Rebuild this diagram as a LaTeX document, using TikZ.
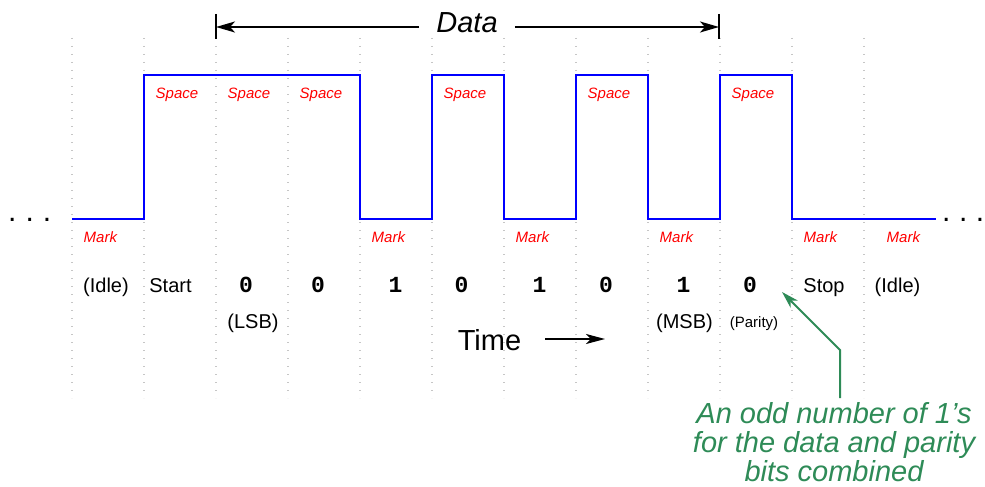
\documentclass[tikz,border=0pt]{standalone}
\usepackage{fontspec}
\setmainfont{Liberation Sans}
\newfontfamily\bitfont{Liberation Mono}
\usetikzlibrary{arrows.meta}

\definecolor{notegreen}{RGB}{46,139,87}

\begin{document}
\begin{tikzpicture}[
  x=1pt, y=-1pt,
  wave/.style={blue, line width=2pt},
  slot/.style={gray!45, line width=1.3pt, dash pattern=on 1.3pt off 6.7pt},
  level/.style={red, font=\fontsize{15}{15}\selectfont\itshape, anchor=base west, inner sep=0pt},
  lbl/.style={font=\fontsize{20}{20}\selectfont, anchor=base, inner sep=0pt},
  small/.style={font=\fontsize{15}{15}\selectfont, anchor=base, inner sep=0pt},
  bit/.style={font=\fontsize{23}{23}\selectfont\bitfont\bfseries, anchor=base, inner sep=0pt},
  big/.style={font=\fontsize{29}{29}\selectfont, anchor=base},
  more/.style={font=\fontsize{30}{30}\selectfont, anchor=base west, inner sep=0pt},
  arr/.style={-{Stealth[length=19pt, width=11pt, inset=5pt]}, line width=2pt},
  tarr/.style={-{Stealth[length=19pt, width=10pt, inset=5pt]}, line width=1.5pt},
  garr/.style={-{Stealth[length=17pt, width=10pt, inset=5pt]}, line width=2pt, notegreen},
  note/.style={notegreen, font=\fontsize{29}{29}\selectfont\itshape, align=center, anchor=base, inner sep=0pt},
]
\useasboundingbox (0,0) rectangle (985,487);

% Bitzellen
\foreach \x in {72,144,...,864}
  \draw[slot] (\x,38) -- (\x,398);

% Signalverlauf
\draw[wave] (72,219) -- (144,219) -- (144,75) -- (360,75) -- (360,219)
  -- (432,219) -- (432,75) -- (504,75) -- (504,219) -- (576,219)
  -- (576,75) -- (648,75) -- (648,219) -- (720,219) -- (720,75)
  -- (792,75) -- (792,219) -- (936,219);

\node[more] (ldots) at (8,221) {.\kern9pt.\kern9pt.};
\node[more] (rdots) at (942,221) {.\kern8.5pt.\kern8.5pt.};

% Pegel
\foreach \x [count=\i] in {144,216,288,432,576,720}
  \node[level] (space\i) at (\x+11.5,98) {Space};
\foreach \x [count=\i] in {72,360,504,648,792,875}
  \node[level] (mark\i) at (\x+11.5,242) {Mark};

% Datenbereich
\coordinate (dl) at (216,27);
\coordinate (dr) at (719,27);
\node[big, font=\fontsize{29}{29}\selectfont\itshape, inner xsep=17pt] (data) at (467,33) {Data};
\draw[arr] (data.west |- dl) -- (dl);
\draw[arr] (data.east |- dr) -- (dr);
\draw[line width=2pt] ([yshift=13pt]dl) -- ([yshift=-12pt]dl);
\draw[line width=2pt] ([yshift=13pt]dr) -- ([yshift=-12pt]dr);

% Bits
\node[lbl] (idle1) at (106,292) {(Idle)};
\node[lbl] (start) at (170.5,292) {Start};
\node[bit] (b0) at (246,292) {0};
\node[bit] (b1) at (318,292) {0};
\node[bit] (b2) at (395.5,292) {1};
\node[bit] (b3) at (461.5,292) {0};
\node[bit] (b4) at (539.5,292) {1};
\node[bit] (b5) at (606,292) {0};
\node[bit] (b6) at (683.5,292) {1};
\node[bit] (par) at (750,292) {0};
\node[lbl] (stop) at (824,292) {Stop};
\node[lbl] (idle2) at (897.5,292) {(Idle)};

\node[lbl] (lsb) at (253,328) {(LSB)};
\node[lbl] (msb) at (684.5,328) {(MSB)};
\node[small] (parity) at (754,327) {(Parity)};

% Zeit
\node[big, inner sep=0pt] (time) at (489.5,350) {Time};
\coordinate (t0) at (545,339);
\coordinate (t1) at (605,339);
\draw[tarr] (t0) -- (t1);

% Paritaet
\node[note] (oddnote) at (834,481) {An odd number of 1’s\\for the data and parity\\bits combined};
\coordinate (nt) at (840,398);
\coordinate (bend) at (840,350);
\coordinate (ptip) at (782,292);
\draw[garr] (nt) -- (bend) -- (ptip);

\end{tikzpicture}
\end{document}
